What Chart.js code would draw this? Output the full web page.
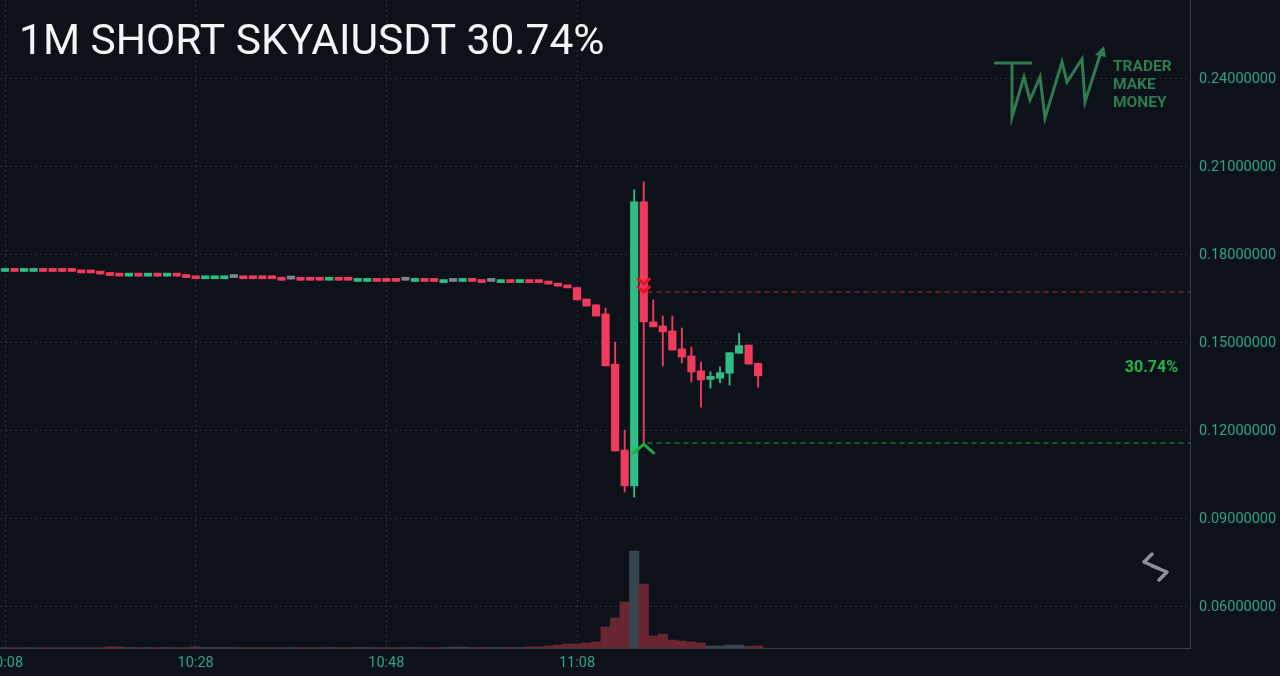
<!DOCTYPE html>
<html>
<head>
<meta charset="utf-8">
<script src="https://cdn.jsdelivr.net/npm/chart.js@4.4.1/dist/chart.umd.min.js"></script>
<style>
  html, body { margin: 0; padding: 0; background: #0d111a; }
  #chart { display: block; background: #0d111a; }
</style>
</head>
<body>
<canvas id="chart" width="1280" height="676"></canvas>
<script>
// minutes after 10:00, one candle per minute
var minutes = [
  8, 9, 10, 11, 12, 13, 14, 15, 16, 17,
  18, 19, 20, 21, 22, 23, 24, 25, 26, 27,
  28, 29, 30, 31, 32, 33, 34, 35, 36, 37,
  38, 39, 40, 41, 42, 43, 44, 45, 46, 47,
  48, 49, 50, 51, 52, 53, 54, 55, 56, 57,
  58, 59, 60, 61, 62, 63, 64, 65, 66, 67,
  68, 69, 70, 71, 72, 73, 74, 75, 76, 77,
  78, 79, 80, 81, 82, 83, 84, 85, 86, 87
];
var opens = [
  .1744, .1752, .1744, .1744, .1752, .1752, .1752, .1752, .1747, .1747,
  .1743, .1738, .1736, .1728, .1736, .1728, .1736, .1728, .1736, .1731,
  .1727, .1719, .1719, .1719, .1723, .1727, .1727, .1727, .1727, .1722,
  .1718, .1722, .1722, .1722, .1714, .1722, .1722, .1710, .1710, .1718,
  .1718, .1718, .1714, .1710, .1718, .1718, .1706, .1710, .1710, .1718,
  .1714, .1710, .1706, .1714, .1706, .1714, .1714, .1709, .1702, .1696,
  .1689, .1650, .1630, .1599, .1428, .1135, .1013, .1981, .1572, .1558,
  .1541, .1480, .1456, .1405, .1376, .1380, .1397, .1465, .1493, .1431
];
var closes = [
  .1752, .1744, .1752, .1752, .1744, .1744, .1744, .1744, .1739, .1739,
  .1735, .1730, .1728, .1736, .1728, .1736, .1728, .1736, .1728, .1723,
  .1719, .1727, .1727, .1727, .1723, .1719, .1719, .1719, .1719, .1714,
  .1718, .1714, .1714, .1714, .1722, .1714, .1714, .1718, .1718, .1710,
  .1710, .1710, .1714, .1718, .1710, .1710, .1714, .1710, .1718, .1710,
  .1706, .1710, .1714, .1706, .1714, .1706, .1706, .1701, .1694, .1688,
  .1647, .1626, .1592, .1422, .1132, .1013, .1981, .1572, .1555, .1538,
  .1476, .1452, .1401, .1374, .1383, .1399, .1467, .1491, .1428, .1388
];
// null = no wick beyond the body
var highs = [
  null, null, null, null, null, null, null, null, null, null,
  null, null, null, null, null, null, null, null, null, null,
  null, null, null, null, null, null, null, null, null, null,
  null, null, null, null, null, null, null, null, null, null,
  null, null, null, null, null, null, null, null, null, null,
  null, null, null, null, null, null, null, null, null, null,
  null, null, null, .1619, .1503, .1203, .2022, .2049, .1647, .1592,
  .1592, .1551, .1486, .1435, .1402, .1419, null, .1533, null, null
];
var lows = [
  null, null, null, null, null, null, null, null, null, null,
  null, null, null, null, null, null, null, null, null, null,
  null, null, null, null, null, null, null, null, null, null,
  null, null, null, null, null, null, null, null, null, null,
  null, null, null, null, null, null, null, null, null, null,
  null, null, null, null, null, null, null, null, null, null,
  null, null, null, null, null, .0992, .0975, .1159, null, .1422,
  null, .1432, .1367, .1281, .1346, .1365, .1357, null, null, .1349
];
var volumes = [
  3, 3, 3, 3, 3, 3, 3, 3, 3, 3,
  3, 12, 12, 4, 4, 4, 4, 4, 4, 4,
  12, 4, 4, 4, 4, 4, 4, 4, 4, 4,
  4, 4, 4, 4, 4, 4, 4, 4, 4, 4,
  4, 4, 4, 4, 4, 4, 4, 10, 10, 5,
  5, 5, 5, 5, 5, 12, 12, 20, 30, 40,
  40, 50, 60, 210, 300, 460, 970, 640, 120, 140,
  80, 70, 60, 50, 20, 20, 30, 30, 15, 20
];
var priceTicks = [0.06, 0.09, 0.12, 0.15, 0.18, 0.21, 0.24];
var timeTicks = [8, 28, 48, 68];
var entryPrice = 0.16735;
var exitPrice = 0.11590;
var signalMinute = 75;
var title = '1M SHORT SKYAIUSDT 30.74%';
var profitLabel = '30.74%';

var UP = '#2ebd85', DOWN = '#f23b5c', FLAT = '#7e848e';
var UP_VOL = '#37454f', DOWN_VOL = '#6a2532', FLAT_VOL = '#3a3f48';
var AXIS_TXT = '#2ea57f';

function candleColor(i) {
  if (closes[i] > opens[i]) return UP;
  if (closes[i] < opens[i]) return DOWN;
  return FLAT;
}
function volColor(i) {
  if (closes[i] > opens[i]) return UP_VOL;
  if (closes[i] < opens[i]) return DOWN_VOL;
  return FLAT_VOL;
}

var bodies = [], wicks = [], vols = [], colors = [], vcolors = [];
for (var i = 0; i < minutes.length; i++) {
  var lo = Math.min(opens[i], closes[i]), hi = Math.max(opens[i], closes[i]);
  bodies.push({x: minutes[i], y: [opens[i], closes[i]]});
  wicks.push({x: minutes[i], y: [lows[i] !== null ? lows[i] : lo, highs[i] !== null ? highs[i] : hi]});
  vols.push({x: minutes[i], y: volumes[i]});
  colors.push(candleColor(i));
  vcolors.push(volColor(i));
}

var xMin = 7.475, xMax = 132.3;
var yMin = 0.04602, yMax = 0.26693;
var volMax = Math.max.apply(null, volumes) * 6.68;

function noPad(scale) {
  scale.paddingLeft = 0; scale.paddingRight = 0;
  scale.paddingTop = 0; scale.paddingBottom = 0;
}

var overlay = {
  id: 'overlay',
  afterDatasetsDraw: function(chart) {
    var ctx = chart.ctx, x = chart.scales.x, y = chart.scales.y;
    var px = x.getPixelForValue(signalMinute);
    var ye = y.getPixelForValue(entryPrice);
    var yx = y.getPixelForValue(exitPrice);
    ctx.save();
    ctx.lineCap = 'butt'; ctx.lineJoin = 'miter';
    // short entry: double chevron down
    ctx.strokeStyle = '#ea1028'; ctx.lineWidth = 3.2;
    [ye - 8, ye].forEach(function(tip) {
      ctx.beginPath();
      ctx.moveTo(px - 6.5, tip - 6); ctx.lineTo(px, tip); ctx.lineTo(px + 6.5, tip - 6);
      ctx.stroke();
    });
    // exit: chevron up
    ctx.strokeStyle = '#1fa83e'; ctx.lineWidth = 3;
    ctx.lineCap = 'round';
    ctx.beginPath();
    ctx.moveTo(px - 10, yx + 10); ctx.lineTo(px, yx + 1); ctx.lineTo(px + 10, yx + 10);
    ctx.stroke();
    // profit label
    ctx.fillStyle = '#22b443';
    ctx.font = 'bold 16px Roboto';
    ctx.textAlign = 'right'; ctx.textBaseline = 'middle';
    ctx.fillText(profitLabel, chart.chartArea.right - 12, (ye + yx) / 2);
    ctx.restore();
  },
  afterDraw: function(chart) {
    var ctx = chart.ctx;
    ctx.save();
    // title
    ctx.fillStyle = '#f4f5f7';
    ctx.font = '42.5px Roboto';
    ctx.textAlign = 'left'; ctx.textBaseline = 'alphabetic';
    ctx.fillText(title, 19, 54);
    // watermark logo
    ctx.strokeStyle = '#2e7b4e'; ctx.lineWidth = 3;
    ctx.lineCap = 'butt'; ctx.lineJoin = 'miter';
    ctx.beginPath();
    ctx.moveTo(994, 63); ctx.lineTo(1032, 63);
    ctx.moveTo(1012, 63); ctx.lineTo(1012, 117);
    ctx.lineTo(1024, 77); ctx.lineTo(1030, 100); ctx.lineTo(1040, 77);
    ctx.lineTo(1045, 118); ctx.lineTo(1062, 62); ctx.lineTo(1067, 82);
    ctx.lineTo(1082, 59); ctx.lineTo(1085, 102); ctx.lineTo(1101, 52);
    ctx.stroke();
    ctx.fillStyle = '#2e7b4e';
    ctx.beginPath();
    ctx.moveTo(1104, 46); ctx.lineTo(1095, 55); ctx.lineTo(1106, 57);
    ctx.closePath(); ctx.fill();
    ctx.font = 'bold 15.5px Roboto';
    ctx.textBaseline = 'alphabetic';
    ctx.fillText('TRADER', 1113, 71);
    ctx.fillText('MAKE', 1113, 89);
    ctx.fillText('MONEY', 1113, 107);
    // swap icon
    ctx.strokeStyle = '#8b9099'; ctx.lineWidth = 3.5;
    ctx.lineCap = 'round'; ctx.lineJoin = 'round';
    ctx.beginPath();
    ctx.moveTo(1152, 554); ctx.lineTo(1144, 562); ctx.lineTo(1160, 569);
    ctx.moveTo(1152, 566); ctx.lineTo(1167, 572); ctx.lineTo(1159, 580);
    ctx.stroke();
    ctx.restore();
  }
};

var chart = new Chart(document.getElementById('chart'), {
  type: 'bar',
  data: {
    datasets: [
      {
        type: 'line', data: [{x: signalMinute + 0.4, y: entryPrice}, {x: xMax, y: entryPrice}],
        borderColor: '#b22530', borderWidth: 1, borderDash: [5, 4], pointRadius: 0, order: 1
      },
      {
        type: 'line', data: [{x: signalMinute + 0.4, y: exitPrice}, {x: xMax, y: exitPrice}],
        borderColor: '#1f9a3c', borderWidth: 1, borderDash: [5, 4], pointRadius: 0, order: 1
      },
      {
        data: bodies, backgroundColor: colors, barThickness: 7.5, minBarLength: 3,
        grouped: false, order: 2
      },
      {
        data: wicks, backgroundColor: colors, barThickness: 1.2,
        grouped: false, order: 3
      },
      {
        data: vols, backgroundColor: vcolors, barThickness: 9.5, yAxisID: 'yv',
        grouped: false, order: 4
      }
    ]
  },
  options: {
    responsive: false,
    animation: false,
    layout: { padding: 0 },
    plugins: { legend: { display: false }, tooltip: { enabled: false }, title: { display: false } },
    scales: {
      x: {
        type: 'linear', min: xMin, max: xMax, offset: false,
        grid: { color: '#2a2e39', offset: false, drawTicks: false },
        border: { color: '#363a45', dash: [2, 3] },
        ticks: {
          color: AXIS_TXT, padding: 7, font: { family: 'Roboto', size: 14.5 },
          maxRotation: 0, autoSkip: false,
          callback: function(v) {
            var h = 10 + Math.floor(v / 60), m = v % 60;
            return h + ':' + (m < 10 ? '0' + m : m);
          }
        },
        afterBuildTicks: function(s) { s.ticks = timeTicks.map(function(v) { return {value: v}; }); },
        afterFit: function(s) { s.height = 28; noPad(s); }
      },
      y: {
        position: 'right', min: yMin, max: yMax,
        grid: { color: '#2a2e39', drawTicks: false },
        border: { color: '#363a45', dash: [2, 3] },
        ticks: {
          color: AXIS_TXT, padding: 9, font: { family: 'Roboto', size: 14.5 },
          callback: function(v) { return v.toFixed(8); }
        },
        afterBuildTicks: function(s) { s.ticks = priceTicks.map(function(v) { return {value: v}; }); },
        afterFit: function(s) { s.width = 90; noPad(s); }
      },
      yv: {
        display: false, min: 0, max: volMax
      }
    }
  },
  plugins: [overlay]
});
</script>
</body>
</html>
